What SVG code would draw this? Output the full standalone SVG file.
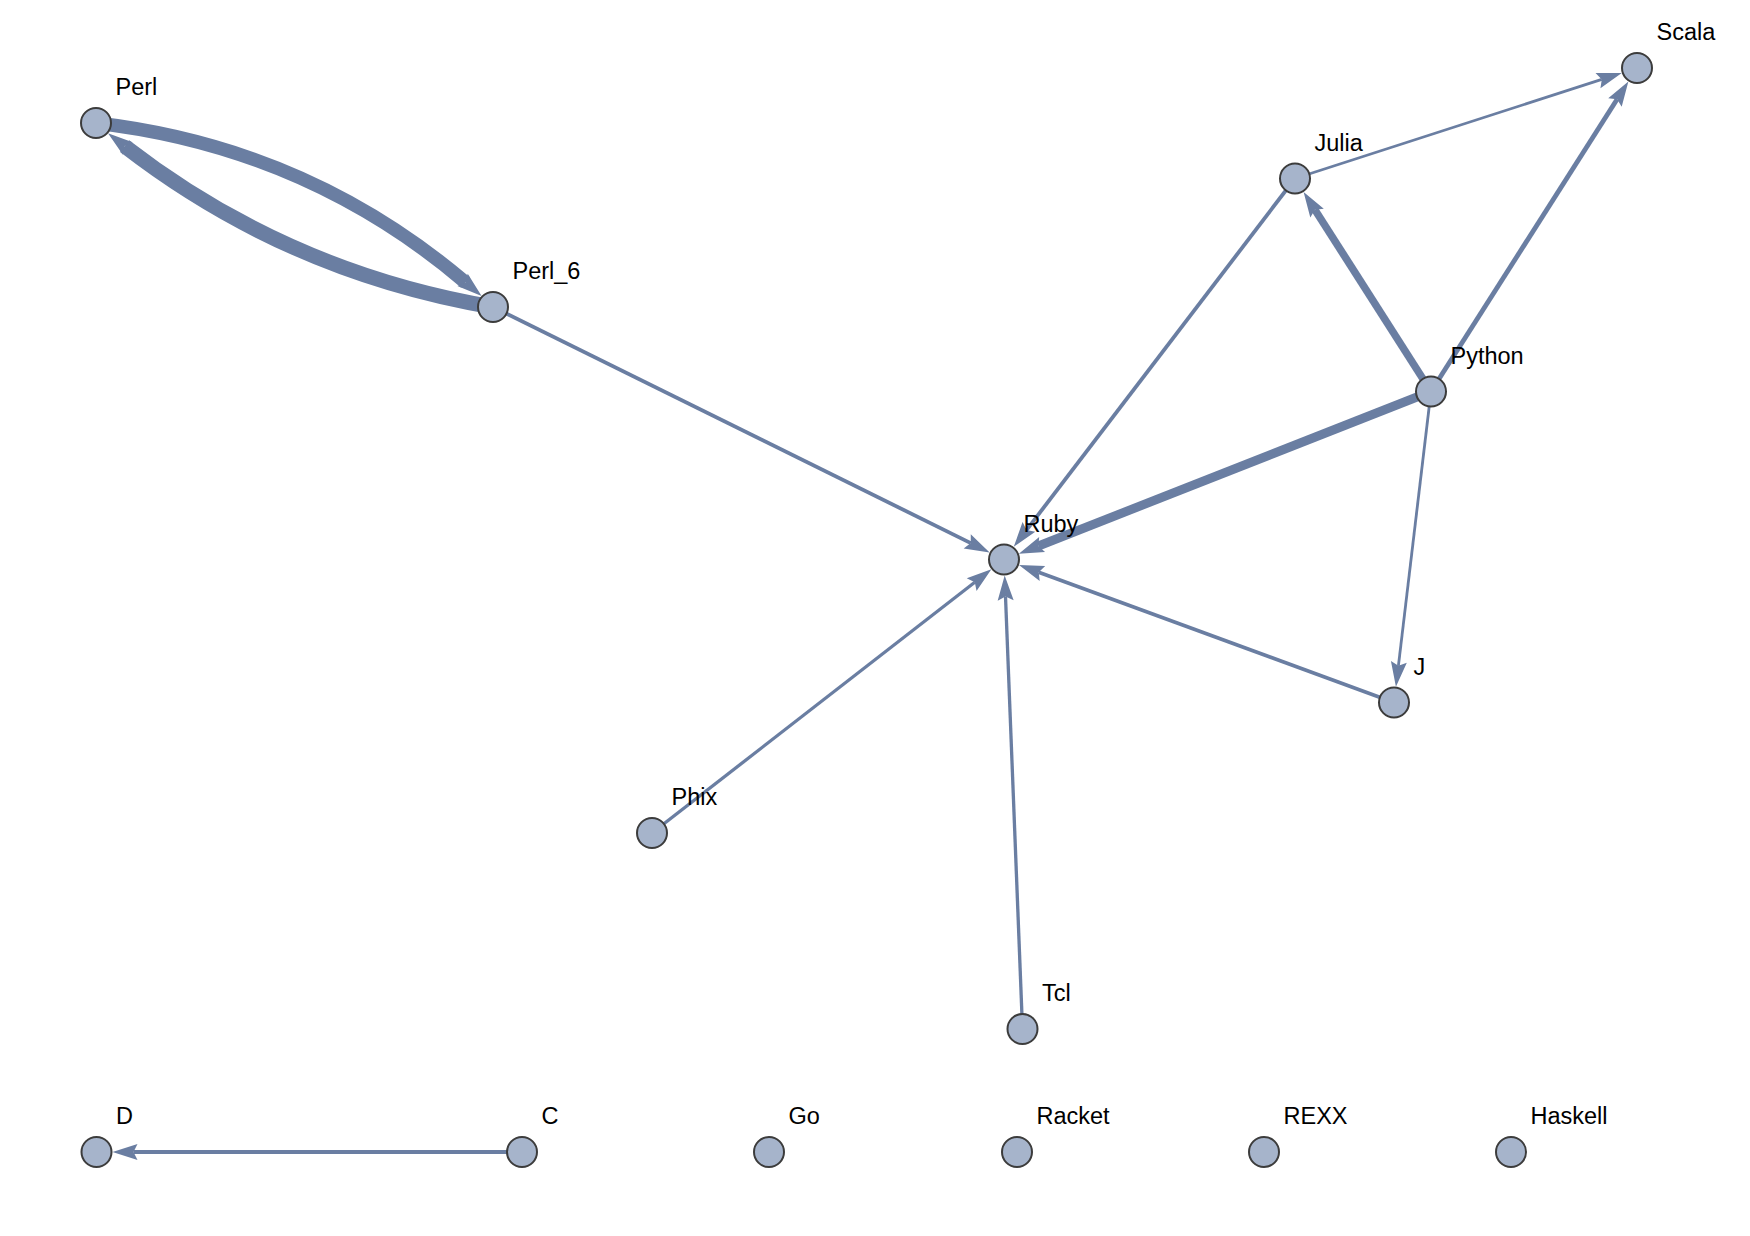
<svg xmlns="http://www.w3.org/2000/svg" width="1750" height="1236" viewBox="0 0 1750 1236">
<style>
.e{fill:none;stroke:#6a7ea2;stroke-linecap:butt}
.n circle{fill:#a6b4cb;stroke:#3c3c3c;stroke-width:2}
.n text{font-family:"Liberation Sans",Arial,sans-serif;font-size:23.5px;fill:#000}
</style>
<defs>
<marker id="ah" markerUnits="userSpaceOnUse" markerWidth="30" markerHeight="20" viewBox="0 -10 30 20" refX="4" refY="0" orient="auto" overflow="visible">
<path d="M0,-8 L25,0 L0,8 L4,0 Z" fill="#6a7ea2"/>
</marker>
</defs>
<rect width="1750" height="1236" fill="#fff"/>
<g id="edges">
<path class="e" d="M96,123 Q306.6,147.3 465.6,282.5" stroke-width="13.5" marker-end="url(#ah)"/>
<path class="e" d="M493,307 Q287.7,272.3 124.6,146.1" stroke-width="15" marker-end="url(#ah)"/>
<path class="e" d="M493,307 L970.8,543.1" stroke-width="3.8" marker-end="url(#ah)"/>
<path class="e" d="M1295,178.5 L1601.8,79.4" stroke-width="2.8" marker-end="url(#ah)"/>
<path class="e" d="M1295,178.5 L1026.5,530.1" stroke-width="3.8" marker-end="url(#ah)"/>
<path class="e" d="M1431,391.5 L1314.9,209.7" stroke-width="7.5" marker-end="url(#ah)"/>
<path class="e" d="M1431,391.5 L1617.1,99.2" stroke-width="4.8" marker-end="url(#ah)"/>
<path class="e" d="M1431,391.5 L1038.4,546" stroke-width="9" marker-end="url(#ah)"/>
<path class="e" d="M1431,391.5 L1398.4,665.8" stroke-width="2.8" marker-end="url(#ah)"/>
<path class="e" d="M1394,702.5 L1038.7,572.2" stroke-width="3.8" marker-end="url(#ah)"/>
<path class="e" d="M652,833 L974.8,582.2" stroke-width="3.3" marker-end="url(#ah)"/>
<path class="e" d="M1022.5,1029 L1005.5,596.5" stroke-width="3.3" marker-end="url(#ah)"/>
<path class="e" d="M522,1152 L133.5,1152" stroke-width="3.8" marker-end="url(#ah)"/>
</g>
<g id="perl" class="n"><circle cx="96" cy="123" r="15"/><text x="115.5" y="95">Perl</text></g>
<g id="perl_6" class="n"><circle cx="493" cy="307" r="15"/><text x="512.5" y="279">Perl_6</text></g>
<g id="scala" class="n"><circle cx="1637" cy="68" r="15"/><text x="1656.5" y="40">Scala</text></g>
<g id="julia" class="n"><circle cx="1295" cy="178.5" r="15"/><text x="1314.5" y="150.5">Julia</text></g>
<g id="python" class="n"><circle cx="1431" cy="391.5" r="15"/><text x="1450.5" y="363.5">Python</text></g>
<g id="ruby" class="n"><circle cx="1004" cy="559.5" r="15"/><text x="1023.5" y="531.5">Ruby</text></g>
<g id="j" class="n"><circle cx="1394" cy="702.5" r="15"/><text x="1413.5" y="674.5">J</text></g>
<g id="phix" class="n"><circle cx="652" cy="833" r="15"/><text x="671.5" y="805">Phix</text></g>
<g id="tcl" class="n"><circle cx="1022.5" cy="1029" r="15"/><text x="1042" y="1001">Tcl</text></g>
<g id="d" class="n"><circle cx="96.5" cy="1152" r="15"/><text x="116" y="1124">D</text></g>
<g id="c" class="n"><circle cx="522" cy="1152" r="15"/><text x="541.5" y="1124">C</text></g>
<g id="go" class="n"><circle cx="769" cy="1152" r="15"/><text x="788.5" y="1124">Go</text></g>
<g id="racket" class="n"><circle cx="1017" cy="1152" r="15"/><text x="1036.5" y="1124">Racket</text></g>
<g id="rexx" class="n"><circle cx="1264" cy="1152" r="15"/><text x="1283.5" y="1124">REXX</text></g>
<g id="haskell" class="n"><circle cx="1511" cy="1152" r="15"/><text x="1530.5" y="1124">Haskell</text></g>
</svg>
